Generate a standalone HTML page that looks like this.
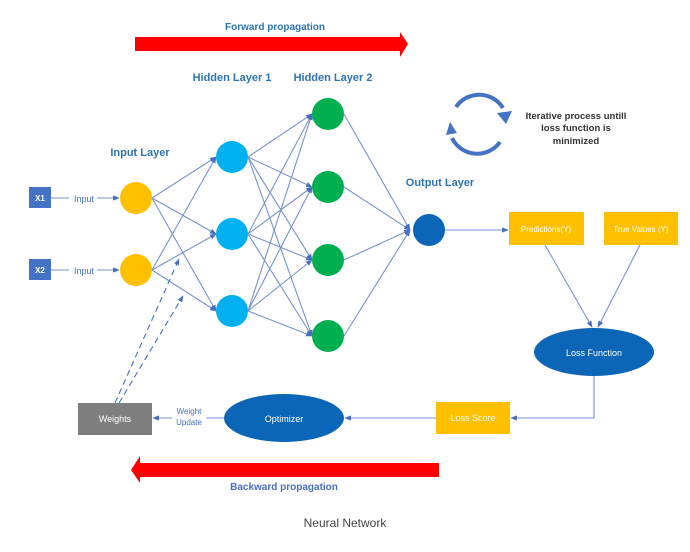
<!DOCTYPE html>
<html><head><meta charset="utf-8"><style>
html,body{margin:0;padding:0;background:#fff;}
svg{display:block;font-family:"Liberation Sans",sans-serif;}
</style></head><body>
<svg width="690" height="552" viewBox="0 0 690 552">
<defs>
<marker id="a" viewBox="0 0 10 10" refX="9" refY="5" markerWidth="6" markerHeight="6" orient="auto"><path d="M0,1 L10,5 L0,9z" fill="#4a6fbf"/></marker>
<marker id="c" viewBox="0 0 10 10" refX="5" refY="5" markerWidth="4" markerHeight="4" orient="auto"><path d="M0,0 L10,5 L0,10z" fill="#4472c4"/></marker>
</defs>
<rect width="690" height="552" fill="#fff"/>
<!-- forward arrow -->
<polygon points="135,37 400,37 400,32 408,44 400,57 400,51 135,51" fill="#f00"/>
<text x="275" y="30" font-size="10" font-weight="bold" fill="#2e75b6" text-anchor="middle">Forward propagation</text>
<text x="232" y="81" font-size="11" font-weight="bold" fill="#2e75b6" text-anchor="middle">Hidden Layer 1</text>
<text x="333" y="81" font-size="11" font-weight="bold" fill="#2e75b6" text-anchor="middle">Hidden Layer 2</text>
<text x="140" y="156" font-size="11" font-weight="bold" fill="#2e75b6" text-anchor="middle">Input Layer</text>
<text x="440" y="186" font-size="11" font-weight="bold" fill="#2e75b6" text-anchor="middle">Output Layer</text>
<g stroke="#7a93cc" stroke-width="1.1" fill="none" marker-end="url(#a)">
<!-- input to H1 -->
<line x1="152" y1="198" x2="216" y2="157"/><line x1="152" y1="198" x2="216" y2="234"/><line x1="152" y1="198" x2="216" y2="311"/>
<line x1="152" y1="270" x2="216" y2="157"/><line x1="152" y1="270" x2="216" y2="234"/><line x1="152" y1="270" x2="216" y2="311"/>
<!-- H1 to H2 -->
<line x1="248" y1="157" x2="312" y2="114"/><line x1="248" y1="157" x2="312" y2="187"/><line x1="248" y1="157" x2="312" y2="260"/><line x1="248" y1="157" x2="312" y2="336"/>
<line x1="248" y1="234" x2="312" y2="114"/><line x1="248" y1="234" x2="312" y2="187"/><line x1="248" y1="234" x2="312" y2="260"/><line x1="248" y1="234" x2="312" y2="336"/>
<line x1="248" y1="311" x2="312" y2="114"/><line x1="248" y1="311" x2="312" y2="187"/><line x1="248" y1="311" x2="312" y2="260"/><line x1="248" y1="311" x2="312" y2="336"/>
<!-- H2 to out -->
<line x1="344" y1="114" x2="410" y2="230"/><line x1="344" y1="187" x2="410" y2="230"/><line x1="344" y1="260" x2="410" y2="230"/><line x1="344" y1="336" x2="410" y2="230"/>
<line x1="445" y1="230" x2="508" y2="230"/>
<line x1="51" y1="198" x2="119" y2="198"/><line x1="51" y1="270" x2="119" y2="270"/>
<line x1="545" y1="245" x2="592" y2="327"/><line x1="640" y1="245" x2="598" y2="327"/>
<polyline points="594,376 594,418 511,418"/>
<line x1="436" y1="418" x2="345" y2="418"/>
<line x1="224" y1="418" x2="153" y2="418"/>
</g>
<g stroke="#4a6fbf" stroke-width="1.1" stroke-dasharray="6,4" marker-end="url(#a)">
<line x1="115" y1="403" x2="179" y2="259"/><line x1="119" y1="403" x2="183" y2="296"/>
</g>
<rect x="69" y="192" width="28" height="12" fill="#fff"/><rect x="69" y="264" width="28" height="12" fill="#fff"/>
<text x="84" y="202" font-size="9" fill="#4472c4" text-anchor="middle">Input</text>
<text x="84" y="274" font-size="9" fill="#4472c4" text-anchor="middle">Input</text>
<rect x="29" y="187" width="22" height="21" fill="#4472c4"/><rect x="29" y="259" width="22" height="21" fill="#4472c4"/>
<text x="40" y="201" font-size="8" fill="#fff" font-weight="bold" text-anchor="middle">X1</text>
<text x="40" y="273" font-size="8" fill="#fff" font-weight="bold" text-anchor="middle">X2</text>
<circle cx="136" cy="198" r="16" fill="#ffc000"/><circle cx="136" cy="270" r="16" fill="#ffc000"/>
<circle cx="232" cy="157" r="16" fill="#00b0f0"/><circle cx="232" cy="234" r="16" fill="#00b0f0"/><circle cx="232" cy="311" r="16" fill="#00b0f0"/>
<circle cx="328" cy="114" r="16" fill="#00b050"/><circle cx="328" cy="187" r="16" fill="#00b050"/><circle cx="328" cy="260" r="16" fill="#00b050"/><circle cx="328" cy="336" r="16" fill="#00b050"/>
<circle cx="429" cy="230" r="16" fill="#0b66b8"/>
<rect x="509" y="212" width="75" height="33" fill="#ffc000"/>
<rect x="604" y="212" width="74" height="33" fill="#ffc000"/>
<text x="546" y="232" font-size="8" fill="#fff" text-anchor="middle">Predictions(Y)</text>
<text x="641" y="232" font-size="8" fill="#fff" text-anchor="middle">True Values (Y)</text>
<ellipse cx="594" cy="352" rx="60" ry="24" fill="#0b66b8"/>
<text x="594" y="356" font-size="9" fill="#fff" text-anchor="middle">Loss Function</text>
<rect x="436" y="402" width="74" height="32" fill="#ffc000"/>
<text x="473" y="421" font-size="9" fill="#fff" text-anchor="middle">Loss Score</text>
<ellipse cx="284" cy="418" rx="60" ry="24" fill="#0b66b8"/>
<text x="284" y="422" font-size="9" fill="#fff" text-anchor="middle">Optimizer</text>
<rect x="78" y="403" width="74" height="32" fill="#7f7f7f"/>
<text x="115" y="422" font-size="9" fill="#fff" text-anchor="middle">Weights</text>
<rect x="172" y="404" width="34" height="24" fill="#fff"/>
<text x="189" y="414" font-size="8" fill="#4472c4" text-anchor="middle">Weight</text>
<text x="189" y="425" font-size="8" fill="#4472c4" text-anchor="middle">Update</text>
<!-- cycle -->
<g stroke="#4472c4" stroke-width="4" fill="none">
<path d="M456,107 A28,28 0 0 1 503,108"/>
<path d="M500,142 A28,28 0 0 1 452,138"/>
</g>
<polygon points="497,113 512,111 506,124" fill="#4472c4"/>
<polygon points="457,133 446,135 450,122" fill="#4472c4"/>
<text font-size="9.5" font-weight="bold" fill="#333" text-anchor="middle"><tspan x="576" y="119">Iterative process untill</tspan><tspan x="576" y="131">loss function is</tspan><tspan x="576" y="144">minimized</tspan></text>
<!-- backward arrow -->
<polygon points="439,463 140,463 140,456 131,470 140,483 140,477 439,477" fill="#f00"/>
<text x="284" y="490" font-size="10" font-weight="bold" fill="#4a6fbf" text-anchor="middle">Backward propagation</text>
<text x="345" y="527" font-size="12" fill="#444" text-anchor="middle">Neural Network</text>
</svg>
</body></html>
